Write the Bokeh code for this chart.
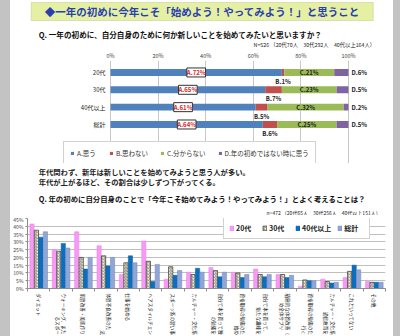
import numpy as np
from bokeh.plotting import figure
from bokeh.models import (ColumnDataSource, Range1d, FixedTicker, NumeralTickFormatter,
                          LabelSet, Label, Legend, LegendItem, BoxAnnotation, Spacer)
from bokeh.layouts import row, column
from bokeh.transform import dodge
from bokeh.core.properties import value
from bokeh.embed import file_html
from bokeh.resources import INLINE

FONT = "Noto Sans CJK JP"

# ---------------- texts ----------------
title_text = "◆一年の初めに今年こそ「始めよう！やってみよう！」と思うこと"
q1_text = "Q. 一年の初めに、自分自身のために何か新しいことを始めてみたいと思いますか？"
n1_text = "N=526 （20代70人　30代292人　40代以上164人）"
comment_lines = ["年代問わず、新年は新しいことを始めてみようと思う人が多い。",
                 "年代が上がるほど、その割合は少しずつ下がってくる。"]
q2_text = "Q. 年の初めに自分自身のことで「今年こそ始めてみよう！やってみよう！」とよく考えることは？"
n2_text = "n=472 （20代65人　30代256人　40代以上151人）"

# ---------------- top chart data ----------------
age_groups = ["20代", "30代", "40代以上", "総計"]
ans_a = [72, 65, 61, 64]
ans_b = [1, 7, 5, 6]
ans_c = [21, 23, 32, 25]
ans_d = [6, 5, 2, 5]
answer_labels = ["A.思う", "B.思わない", "C.分からない", "D.年の初めではない時に思う"]
pct_ticks = [0, 20, 40, 60, 80, 100]

# ---------------- bottom chart data (labels as far as they are visible) ----------------
items = ["ダイエット",
         "ウォーキング、また\n　　　　　るスポー",
         "肌質改善・美肌作り",
         "体質不良改善のた\n　　　　　　　　法",
         "仕事を始める",
         "ヘアスタイルチェン",
         "スポーツ系の習い事",
         "カルチャー・文化系",
         "自分で本を買って独\n　　　　　の勉強を",
         "資格取得の勉強のた\n　　　　　　　始め",
         "自分で本を買って、\n　　　新たな趣味を",
         "積極的な体質改善（\n　　め全体サプリ",
         "資格取得の勉強のた\n　　　　　　　行く",
         "カルチャー・文化系\n　　　　通信教育を",
         "これといってない",
         "その他"]
v20 = [41.5, 25, 36.5, 27.5, 9, 30.5, 6, 10.5, 13.5, 10.5, 12.5, 9, 1.5, 6, 7, 4.5]
v30 = [37.5, 24, 20, 21, 16.5, 17.5, 14, 9, 11.5, 10, 9, 9, 5.5, 4.5, 11, 4]
v40 = [33, 29, 12.5, 14.5, 21, 4.5, 8.5, 13, 7.5, 7, 7.5, 7, 5, 3.5, 15, 4]
vtot = [36.5, 26, 20, 20, 16.5, 15.5, 11.5, 10.5, 10.5, 9, 9, 8.5, 5, 4, 12, 4]
series_names = ["20代", "30代", "40代以上", "総計"]
y_ticks2 = [0, 5, 10, 15, 20, 25, 30, 35, 40, 45]

W = 381

def blank_fig(h):
    f = figure(width=W, height=h, x_range=Range1d(0, W), y_range=Range1d(h, 0),
               x_axis_location=None, y_axis_location=None,
               output_backend="svg", toolbar_location=None,
               min_border=0, min_border_left=0, min_border_right=0,
               min_border_top=0, min_border_bottom=0)
    f.grid.visible = False
    f.outline_line_color = None
    f.background_fill_color = "white"
    f.border_fill_color = "white"
    return f

# ---------------- header ----------------
fa = blank_fig(48)
fa.add_layout(BoxAnnotation(left=4, right=370, top=2, bottom=20, fill_color="#e6f0a3",
                            fill_alpha=1, line_color="#9ea56e", line_width=1))
fa.add_layout(Label(x=187, y=11, text=title_text, text_align="center", text_baseline="middle",
                    text_font=FONT, text_font_size="10.5px", text_font_style="bold",
                    text_color="#2a3fae"))
fa.add_layout(Label(x=12, y=34, text=q1_text, text_align="left", text_baseline="middle",
                    text_font=FONT, text_font_size="7.6px", text_font_style="bold",
                    text_color="#111111"))
fa.add_layout(Label(x=372, y=44, text=n1_text, text_align="right", text_baseline="middle",
                    text_font=FONT, text_font_size="5.3px", text_color="#222222"))

# ---------------- top chart ----------------
px_per = 238.0
x0 = 83.0
fb = figure(frame_width=W, frame_height=103,
            x_range=Range1d(-x0 / px_per, (W - x0) / px_per),
            y_range=Range1d(5.25, -0.69), x_axis_location="above", y_axis_location=None,
            output_backend="svg", toolbar_location=None,
            min_border_left=0, min_border_right=0, min_border_bottom=0, min_border_top=11)
fb.outline_line_color = None
fb.ygrid.visible = False
fb.xgrid.grid_line_color = "#c8c8c8"
fb.xgrid.bounds = (-0.63, 3.58)
fb.xaxis.ticker = FixedTicker(ticks=[t / 100 for t in pct_ticks])
fb.xaxis.formatter = NumeralTickFormatter(format="0%")
fb.xaxis.axis_line_color = None
fb.xaxis.major_tick_line_color = None
fb.xaxis.minor_tick_line_color = None
fb.xaxis.major_tick_out = 0
fb.xaxis.major_tick_in = 0
fb.xaxis.minor_tick_out = 0
fb.xaxis.minor_tick_in = 0
fb.xaxis.major_label_standoff = 1
fb.xaxis.major_label_text_font = FONT
fb.xaxis.major_label_text_font_size = "5.5px"
fb.xaxis.major_label_text_color = "#404040"

ya = list(range(len(age_groups)))
fa_ = np.array(ans_a) / 100
fbv = np.array(ans_b) / 100
fc = np.array(ans_c) / 100
fd = np.array(ans_d) / 100
srcb = ColumnDataSource(dict(y=ya, cat=age_groups, a=fa_, b=fbv, c=fc, d=fd,
                             la=[f"A.{v}%" for v in ans_a], lb=[f"B.{v}%" for v in ans_b],
                             lc=[f"C.{v}%" for v in ans_c], ld=[f"D.{v}%" for v in ans_d],
                             xa=fa_ / 2, xb=fa_ + fbv / 2, xc=fa_ + fbv + fc / 2,
                             yb=[v + 0.52 for v in ya], zero=[0] * 4, one=[1.0] * 4))
top_colors = ["#4f81bd", "#c0504d", "#9bbb59", "#8064a2"]
rs = fb.hbar_stack(["a", "b", "c", "d"], y="y", height=0.4, source=srcb,
                   color=top_colors, line_color=None)

lab_common = dict(text_font=value(FONT), text_font_size="6px", text_font_style="bold")
fb.add_layout(LabelSet(x="zero", y="y", text="cat", source=srcb, x_offset=-5,
                       text_align="right", text_baseline="middle", text_font=value(FONT),
                       text_font_size="6px", text_color="#222222"))
fb.add_layout(LabelSet(x="xa", y="y", text="la", source=srcb, text_align="center",
                       text_baseline="middle", text_color="#d02a2a",
                       background_fill_color="white", border_line_color="#333333",
                       border_line_width=1, **lab_common))
fb.add_layout(LabelSet(x="xb", y="yb", text="lb", source=srcb, text_align="center",
                       text_baseline="middle", text_color="#222222", **lab_common))
fb.add_layout(LabelSet(x="xc", y="y", text="lc", source=srcb, text_align="center",
                       text_baseline="middle", text_color="#222222", **lab_common))
fb.add_layout(LabelSet(x="one", y="y", text="ld", source=srcb, x_offset=3, text_align="left",
                       text_baseline="middle", text_color="#222222", **lab_common))

leg_b = Legend(items=[LegendItem(label=answer_labels[i], renderers=[rs[i]]) for i in range(4)],
               orientation="horizontal", location=(53, -2),
               label_text_font=FONT, label_text_font_size="6.5px", label_text_color="#333333",
               glyph_width=4, glyph_height=4, label_standoff=3, spacing=12,
               padding=6, margin=0, label_height=7,
               border_line_color="#a6a6a6", background_fill_color="white", background_fill_alpha=1)
fb.add_layout(leg_b)

# ---------------- comment / Q2 / n ----------------
fc_ = blank_fig(52)
fc_.add_layout(Label(x=12, y=8, text=comment_lines[0], text_align="left", text_baseline="middle",
                     text_font=FONT, text_font_size="7.3px", text_font_style="bold",
                     text_color="#222222"))
fc_.add_layout(Label(x=12, y=18, text=comment_lines[1], text_align="left", text_baseline="middle",
                     text_font=FONT, text_font_size="7.3px", text_font_style="bold",
                     text_color="#222222"))
fc_.add_layout(Label(x=12, y=35, text=q2_text, text_align="left", text_baseline="middle",
                     text_font=FONT, text_font_size="7.4px", text_font_style="bold",
                     text_color="#111111"))
fc_.add_layout(Label(x=378, y=49, text=n2_text, text_align="right", text_baseline="middle",
                     text_font=FONT, text_font_size="5px", text_color="#222222"))

# ---------------- bottom chart ----------------
n = len(items)
xs = np.arange(n) + 0.5
fd_ = figure(frame_width=358, frame_height=70, x_range=Range1d(0, n), y_range=Range1d(0, 0.45),
             output_backend="svg", toolbar_location=None,
             min_border_left=15, min_border_right=8, min_border_top=3, min_border_bottom=49)
fd_.outline_line_color = None
fd_.xgrid.visible = False
fd_.ygrid.grid_line_color = "#bfbfbf"
fd_.yaxis.ticker = FixedTicker(ticks=[t / 100 for t in y_ticks2])
fd_.yaxis.formatter = NumeralTickFormatter(format="0%")
fd_.yaxis.major_label_text_font = FONT
fd_.yaxis.major_label_text_font_size = "5px"
fd_.yaxis.major_label_text_color = "#404040"
fd_.yaxis.major_tick_out = 2
fd_.yaxis.major_tick_in = 0
fd_.yaxis.minor_tick_line_color = None
fd_.yaxis.minor_tick_out = 0
fd_.yaxis.minor_tick_in = 0
fd_.yaxis.major_label_standoff = 2
fd_.yaxis.axis_line_color = "#8c8c8c"
fd_.yaxis.major_tick_line_color = "#8c8c8c"

fd_.xaxis.ticker = FixedTicker(ticks=list(xs), minor_ticks=list(range(n + 1)))
fd_.xaxis.major_label_overrides = {float(x): lab for x, lab in zip(xs, items)}
fd_.xaxis.major_label_orientation = -np.pi / 2
fd_.xaxis.major_tick_out = 0
fd_.xaxis.major_tick_in = 0
fd_.xaxis.major_tick_line_color = None
fd_.xaxis.minor_tick_out = 3
fd_.xaxis.minor_tick_in = 0
fd_.xaxis.minor_tick_line_color = "#8c8c8c"
fd_.xaxis.axis_line_color = "#8c8c8c"
fd_.xaxis.major_label_standoff = 2
fd_.xaxis.major_label_text_font = FONT
fd_.xaxis.major_label_text_font_size = "4.6px"
fd_.xaxis.major_label_text_color = "#222222"
fd_.xaxis.major_label_text_line_height = 1.1

srcd = ColumnDataSource(dict(x=xs, v20=np.array(v20) / 100, v30=np.array(v30) / 100,
                             v40=np.array(v40) / 100, vt=np.array(vtot) / 100))
bw = 0.19
r20 = fd_.vbar(x=dodge("x", -0.3), top="v20", width=bw, source=srcd,
               fill_color="#f79af4", line_color="#ea82e8", line_width=0.5)
r30 = fd_.vbar(x=dodge("x", -0.1), top="v30", width=bw, source=srcd,
               fill_color="#ecebd2", line_color="#333333", line_width=0.7,
               hatch_pattern="right_diagonal_line", hatch_color="#555555",
               hatch_scale=3, hatch_weight=0.6)
r40 = fd_.vbar(x=dodge("x", 0.1), top="v40", width=bw, source=srcd,
               fill_color="#0a6fc0", line_color="#0a5aa0", line_width=0.5)
rt = fd_.vbar(x=dodge("x", 0.3), top="vt", width=bw, source=srcd,
              fill_color="#92a6d6", line_color="#6f84bb", line_width=0.5)

leg_d = Legend(items=[LegendItem(label=series_names[i], renderers=[r])
                      for i, r in enumerate([r20, r30, r40, rt])],
               orientation="horizontal", location=(196, 49),
               label_text_font=FONT, label_text_font_size="7px", label_text_font_style="bold",
               label_text_color="#222222",
               glyph_width=5, glyph_height=6, label_standoff=2, spacing=6,
               padding=5, margin=0, label_height=8,
               border_line_color="#a6a6a6", background_fill_color="white", background_fill_alpha=1)
fd_.add_layout(leg_d)

layout = row(Spacer(width=10, height=336, styles={"background-color": "#c3c3c3"}),
             column(fa, fb, fc_, fd_),
             Spacer(width=9, height=336, styles={"background-color": "#c3c3c3"}))

open("out.html", "w").write(file_html(layout, INLINE))
